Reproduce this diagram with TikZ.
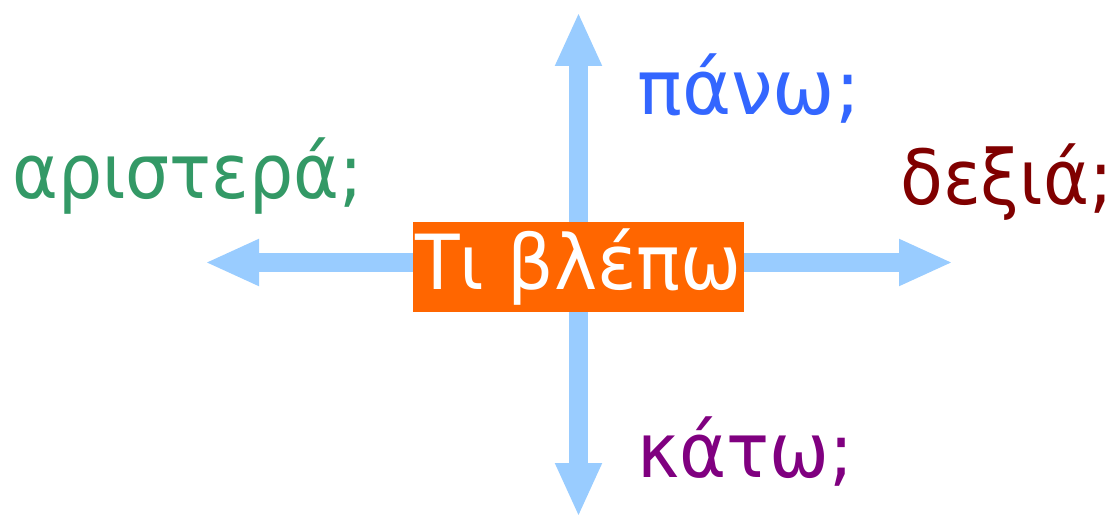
\documentclass[tikz,border=0pt]{standalone}
\usepackage{fontspec}
\setmainfont{DejaVu Sans}
\usetikzlibrary{arrows.meta}
\definecolor{boxorange}{HTML}{FF6600}
\definecolor{arrowblue}{HTML}{99CCFF}
\definecolor{upblue}{HTML}{3366FF}
\definecolor{leftgreen}{HTML}{339966}
\definecolor{rightred}{HTML}{800000}
\definecolor{downpurple}{HTML}{800080}
\newcommand{\bigfont}[1]{\fontsize{76}{76}\selectfont\addfontfeatures{FakeStretch=#1}}

\begin{document}
\begin{tikzpicture}[x=1pt,y=-1pt,
    arr/.style={arrowblue, line width=19pt, -{Triangle[length=54pt,width=43pt]}},
    big/.style={inner sep=0, anchor=base west}]
\useasboundingbox (0,0) rectangle (1116,518);
\coordinate (up) at (578.5,12);
\coordinate (down) at (578.5,517);
\coordinate (left) at (205,262.5);
\coordinate (right) at (953,262.5);
\coordinate (mid) at (578.5,267);
% arrows first, box on top
\draw[arr] (mid |- 0,222) -- (up);
\draw[arr] (mid |- 0,312) -- (down);
\draw[arr] (413,262.5) -- (left);
\draw[arr] (744,262.5) -- (right);
\node[fill=boxorange, text=white, inner sep=0, minimum width=331pt, minimum height=90pt,
    font=\bigfont{0.96}] (box) at (mid) {Τι βλέπω};
\node[big, upblue, font=\bigfont{0.98}] (upq) at (637,115) {πάνω;};
\node[big, leftgreen, font=\bigfont{0.915}] (leftq) at (12,199) {αριστερά;};
\node[big, rightred, font=\bigfont{0.92}] (rightq) at (900,205) {δεξιά;};
\node[big, downpurple, font=\bigfont{0.94}] (downq) at (637,477) {κάτω;};
\end{tikzpicture}
\end{document}
